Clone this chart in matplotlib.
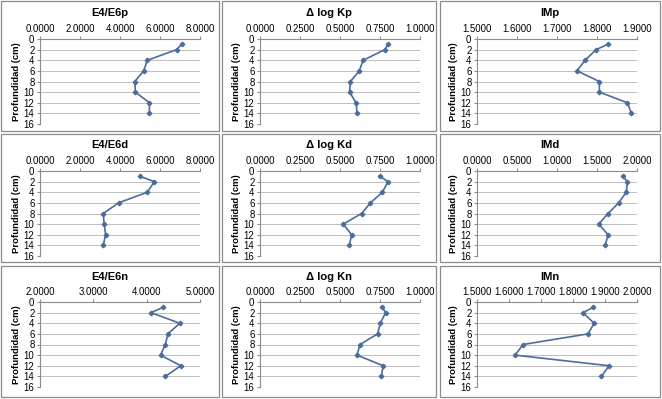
import matplotlib
matplotlib.use("Agg")
import matplotlib.pyplot as plt
from matplotlib.patches import Rectangle

plt.rcParams['font.family'] = ['Liberation Sans', 'DejaVu Sans']

# depth of each sample (cm)
depth = [1, 2, 4, 6, 8, 10, 12, 14]

# values, one list per panel
e4e6_p = [7.08, 6.83, 5.37, 5.18, 4.74, 4.77, 5.47, 5.47]
dlogk_p = [0.800, 0.780, 0.645, 0.620, 0.565, 0.560, 0.600, 0.607]
im_p = [1.827, 1.798, 1.770, 1.750, 1.806, 1.806, 1.876, 1.886]

e4e6_d = [4.99, 5.72, 5.36, 3.93, 3.16, 3.21, 3.28, 3.16]
dlogk_d = [0.750, 0.800, 0.765, 0.690, 0.635, 0.520, 0.573, 0.558]
im_d = [1.82, 1.88, 1.866, 1.77, 1.64, 1.52, 1.64, 1.60]

e4e6_n = [4.31, 4.08, 4.62, 4.40, 4.35, 4.26, 4.64, 4.35]
dlogk_n = [0.765, 0.785, 0.752, 0.735, 0.625, 0.606, 0.770, 0.758]
im_n = [1.864, 1.831, 1.866, 1.847, 1.644, 1.619, 1.9125, 1.889]

titles = [
    ["E4/E6p", "\u0394 log Kp", "IMp"],
    ["E4/E6d", "\u0394 log Kd", "IMd"],
    ["E4/E6n", "\u0394 log Kn", "IMn"],
]
series = [
    [e4e6_p, dlogk_p, im_p],
    [e4e6_d, dlogk_d, im_d],
    [e4e6_n, dlogk_n, im_n],
]
xticks = [
    [[0, 2, 4, 6, 8], [0, 0.25, 0.5, 0.75, 1.0], [1.5, 1.6, 1.7, 1.8, 1.9]],
    [[0, 2, 4, 6, 8], [0, 0.25, 0.5, 0.75, 1.0], [0, 0.5, 1.0, 1.5, 2.0]],
    [[2, 3, 4, 5], [0, 0.25, 0.5, 0.75, 1.0], [1.5, 1.6, 1.7, 1.8, 1.9, 2.0]],
]
yticks = [0, 2, 4, 6, 8, 10, 12, 14, 16]

W, H = 662, 399
fig = plt.figure(figsize=(W / 100, H / 100), dpi=100)
fig.patch.set_facecolor('white')

# pixel layout of the 3x3 grid
box_x = [(1, 219), (222, 436), (440, 660)]
box_y = [(1, 131), (134, 262), (266, 397)]
plot_x = [(40, 200), (260, 420), (477, 637)]
plot_y = [(39, 124), (171, 256), (302, 387)]

line_col = '#4a6d9c'

for r in range(3):
    for c in range(3):
        bx0, bx1 = box_x[c]
        by0, by1 = box_y[r]
        fig.patches.append(Rectangle((bx0 / W, 1 - by1 / H), (bx1 - bx0) / W, (by1 - by0) / H,
                                     transform=fig.transFigure, fill=False,
                                     edgecolor='#8c8c8c', linewidth=0.9))

        px0, px1 = plot_x[c]
        py0, py1 = plot_y[r]
        ax = fig.add_axes([px0 / W, 1 - py1 / H, (px1 - px0) / W, (py1 - py0) / H])
        ax.plot(series[r][c], depth, color=line_col, lw=1.2, marker='D', ms=2.3,
                markerfacecolor=line_col, markeredgecolor=line_col)

        xt = xticks[r][c]
        ax.set_xlim(xt[0], xt[-1])
        ax.set_ylim(16, 0)
        ax.set_xticks(xt)
        ax.set_xticklabels([f"{v:.4f}" for v in xt])
        ax.set_yticks(yticks)
        ax.xaxis.tick_top()
        ax.tick_params(axis='x', labelsize=6.9, length=2, color='#8c8c8c', pad=1.5)
        ax.tick_params(axis='y', labelsize=6.9, length=2.5, color='#8c8c8c', pad=1.5)
        ax.grid(axis='y', color='#bdbdbd', lw=0.7)
        ax.set_axisbelow(True)
        for side in ['right', 'bottom']:
            ax.spines[side].set_visible(False)
        for side in ['top', 'left']:
            ax.spines[side].set_color('#8c8c8c')
            ax.spines[side].set_linewidth(0.8)
        ax.set_ylabel("Profundidad (cm)", fontsize=6.8, fontweight='bold', labelpad=2)

        fig.text((bx0 + bx1) / 2 / W, 1 - (by0 + 11.5) / H, titles[r][c],
                 ha='center', va='center', fontsize=8, fontweight='bold')

fig.savefig("out.png", dpi=100)
